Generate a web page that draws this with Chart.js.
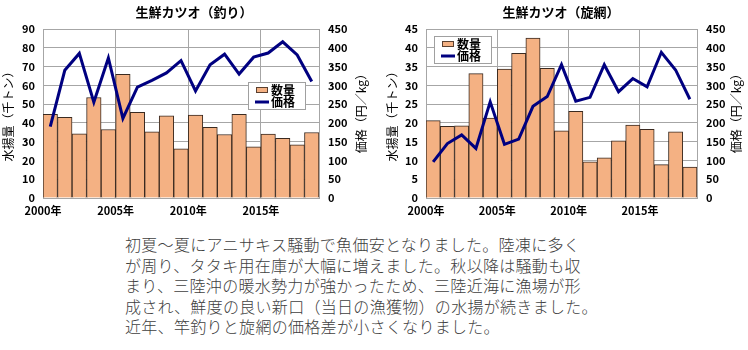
<!DOCTYPE html>
<html>
<head>
<meta charset="utf-8">
<script src="https://cdn.jsdelivr.net/npm/chart.js@4.4.1/dist/chart.umd.min.js"></script>
<style>
  body { margin: 0; background: #fff; width: 748px; height: 350px; position: relative; overflow: hidden; }
  #c1 { position: absolute; left: 0; top: 0; }
  #c2 { position: absolute; left: 374px; top: 0; }
  #note {
    position: absolute; left: 125px; top: 234px;
    font-family: "Noto Sans CJK JP", sans-serif; font-size: 16px; font-weight: 300;
    line-height: 20.5px; letter-spacing: 0.3px; color: #404040; white-space: nowrap;
  }
</style>
</head>
<body>
<canvas id="c1" width="372" height="225"></canvas>
<canvas id="c2" width="374" height="225"></canvas>
<div id="note">
  初夏～夏にアニサキス騒動で魚価安となりました。陸凍に多く<br>
  が周り、タタキ用在庫が大幅に増えました。秋以降は騒動も収<br>
  まり、三陸沖の暖水勢力が強かったため、三陸近海に漁場が形<br>
  成され、鮮度の良い新口（当日の漁獲物）の水揚が続きました。<br>
  近年、竿釣りと旋網の価格差が小さくなりました。
</div>
<script>
  // years on the x axis
  var years = [2000, 2001, 2002, 2003, 2004, 2005, 2006, 2007, 2008, 2009,
               2010, 2011, 2012, 2013, 2014, 2015, 2016, 2017, 2018];

  // 釣り (pole and line): quantity in 千トン, price in 円/kg
  var poleQty   = [44.5, 43, 34.2, 53.5, 36.5, 65.8, 45.6, 35.3, 43.7, 26.2,
                   44.2, 37.6, 33.8, 44.6, 27.2, 34.1, 31.8, 28.3, 34.9];
  var polePrice = [190, 340, 385, 255, 373, 212, 295, 313, 333, 366,
                   285, 355, 383, 330, 375, 386, 416, 381, 310];

  // 旋網 (purse seine)
  var seineQty   = [20.6, 19.1, 19.2, 33.1, 21.3, 34.3, 38.5, 42.6, 34.5, 17.9,
                    23.1, 9.6, 10.7, 15.2, 19.4, 18.3, 8.9, 17.6, 8.2];
  var seinePrice = [96, 145, 168, 132, 256, 143, 157, 244, 270, 355,
                    258, 268, 355, 283, 318, 296, 388, 341, 263];

  var seriesNames = ['数量', '価格'];
  var barColor = '#F4B183';
  var lineColor = '#000080';
  var gridColor = '#a6a6a6';
  var jp = '"Noto Sans CJK JP", sans-serif';

  // title + right axis title + in-plot legend
  var decorPlugin = {
    id: 'decor',
    afterDraw: function (chart) {
      var o = chart.options.plugins.decor;
      var ctx = chart.ctx, a = chart.chartArea;
      ctx.save();
      ctx.fillStyle = '#000';
      ctx.font = 'bold 13px ' + jp;
      ctx.textAlign = 'center';
      ctx.textBaseline = 'middle';
      ctx.fillText(o.title, o.titleX, 12);

      // right axis title, reading bottom to top
      ctx.font = '12px ' + jp;
      ctx.translate(o.rightTitleX, (a.top + a.bottom) / 2 - 3);
      ctx.rotate(-Math.PI / 2);
      ctx.fillText('価格（円／kg）', 0, 0);
      ctx.setTransform(1, 0, 0, 1, 0, 0);

      // legend box
      var x = a.left + o.legendX, y = a.top + o.legendY;
      ctx.fillStyle = '#fff';
      ctx.fillRect(x, y, 58, 28);
      ctx.strokeStyle = '#a0a0a0';
      ctx.lineWidth = 1;
      ctx.strokeRect(x + 0.5, y + 0.5, 57, 27);
      ctx.fillStyle = barColor;
      ctx.fillRect(x + 8, y + 5, 12, 6);
      ctx.strokeStyle = '#5a4030';
      ctx.strokeRect(x + 8.5, y + 5.5, 11, 5);
      ctx.strokeStyle = lineColor;
      ctx.lineWidth = 3;
      ctx.beginPath();
      ctx.moveTo(x + 7, y + 20);
      ctx.lineTo(x + 21, y + 20);
      ctx.stroke();
      ctx.fillStyle = '#000';
      ctx.font = 'bold 12px ' + jp;
      ctx.textAlign = 'left';
      ctx.fillText(seriesNames[0], x + 23, y + 8);
      ctx.fillText(seriesNames[1], x + 23, y + 20);
      ctx.restore();
    }
  };

  function makeChart(id, qty, price, qtyMax, qtyStep, leftW, rightW, deco) {
    var ctx = document.getElementById(id).getContext('2d');
    return new Chart(ctx, {
      type: 'bar',
      data: {
        datasets: [{
          type: 'line',
          label: seriesNames[1],
          data: years.map(function (y, i) { return { x: y + 0.5, y: price[i] }; }),
          yAxisID: 'y2',
          borderColor: lineColor,
          borderWidth: 3,
          pointRadius: 0,
          tension: 0,
          order: 0
        }, {
          label: seriesNames[0],
          data: years.map(function (y, i) { return { x: y + 0.5, y: qty[i] }; }),
          yAxisID: 'y',
          backgroundColor: barColor,
          borderColor: '#3a2a20',
          borderWidth: 1,
          barPercentage: 1,
          categoryPercentage: 1,
          order: 1
        }]
      },
      options: {
        responsive: false,
        animation: false,
        layout: { padding: { top: 29 } },
        plugins: {
          legend: { display: false },
          tooltip: { enabled: false },
          decor: deco
        },
        scales: {
          x: {
            type: 'linear',
            min: 2000,
            max: 2019,
            offset: false,
            grid: { color: gridColor, drawTicks: false, offset: false },
            border: { color: gridColor },
            ticks: {
              stepSize: 5,
              includeBounds: false,
              autoSkip: false,
              maxRotation: 0,
              padding: 6,
              color: '#000',
              font: { family: jp, size: 11, weight: 'bold' },
              callback: function (v) { return v % 5 === 0 ? v + '年' : ''; }
            },
            afterFit: function (s) { s.height = 27; }
          },
          y: {
            position: 'left',
            min: 0,
            max: qtyMax,
            grid: { color: gridColor, drawTicks: false },
            border: { color: gridColor },
            ticks: {
              stepSize: qtyStep,
              padding: 8,
              color: '#000',
              font: { family: jp, size: 11, weight: 'bold' }
            },
            title: {
              display: true,
              text: '水揚量（千トン）',
              color: '#000',
              padding: { top: deco.leftTitlePad, bottom: 0 },
              font: { family: jp, size: 12 }
            },
            afterFit: function (s) { s.width = leftW; }
          },
          y2: {
            position: 'right',
            min: 0,
            max: 450,
            grid: { drawOnChartArea: false, drawTicks: false },
            border: { color: gridColor },
            ticks: {
              stepSize: 50,
              padding: 9,
              color: '#000',
              font: { family: jp, size: 11, weight: 'bold' }
            },
            afterFit: function (s) { s.width = rightW; }
          }
        }
      },
      plugins: [decorPlugin]
    });
  }

  makeChart('c1', poleQty, polePrice, 90, 10, 43, 53,
    { title: '生鮮カツオ（釣り）', titleX: 194, rightTitleX: 361, legendX: 205, legendY: 53, leftTitlePad: 1 });
  makeChart('c2', seineQty, seinePrice, 45, 5, 52, 51,
    { title: '生鮮カツオ（旋網）', titleX: 187, rightTitleX: 362, legendX: 8, legendY: 7, leftTitlePad: 11 });
</script>
</body>
</html>
